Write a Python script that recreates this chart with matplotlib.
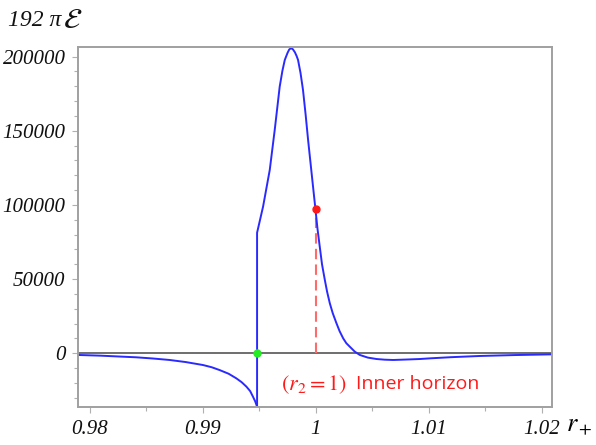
import matplotlib
matplotlib.use("Agg")
import matplotlib.pyplot as plt
from matplotlib.ticker import MultipleLocator

plt.rcParams["mathtext.fontset"] = "stix"

# curve (r+, 192*pi*E)
r_left = [0.97898, 0.97912, 0.9810, 0.9830, 0.98413, 0.9856, 0.98708, 0.9885,
          0.99003, 0.99080, 0.99150, 0.99230, 0.99298, 0.99345, 0.99387,
          0.99420, 0.99445, 0.99465, 0.99481]
e_left = [-1000, -1150, -1600, -2300, -2700, -3500, -4500, -5900,
          -7900, -9400, -11300, -13800, -16900, -19500, -22500,
          -25500, -29300, -32500, -36000]

r_right = [0.99481, 0.99481, 0.99534, 0.99593, 0.99637, 0.99681, 0.99705,
           0.99726, 0.99750, 0.99765, 0.99781, 0.99797, 0.99815, 0.99830,
           0.99843, 0.99865, 0.99887, 0.99910, 0.99932, 0.99965, 0.99997,
           1.00015, 1.00035, 1.00055, 1.00080, 1.00100, 1.00124, 1.00150,
           1.00183, 1.00210, 1.00242, 1.00270, 1.00300, 1.00345, 1.00390,
           1.00460, 1.00537, 1.00610, 1.00684, 1.00800, 1.00920, 1.0101,
           1.0120, 1.0145, 1.0175, 1.02088]
e_right = [-36000, 81300, 98900, 123600, 150600, 179800, 190500,
           197800, 202500, 204800, 205700, 205000, 203000, 200500,
           197800, 189000, 177500, 161000, 143800, 120000, 97100,
           84000, 71900, 60000, 49400, 41500, 33700, 27000,
           20200, 15000, 10100, 6800, 4500, 1100, -1150,
           -2900, -3850, -4300, -4500, -4200, -3850, -3400,
           -2600, -1800, -1200, -700]

r_inner, e_inner = 1.0, 97100
r_green, e_green = 0.99481, 0

x_ticks = [0.98, 0.99, 1.0, 1.01, 1.02]
x_labels = ["0.98", "0.99", "1", "1.01", "1.02"]
y_ticks = [0, 50000, 100000, 150000, 200000]
y_labels = ["0", "50000", "100000", "150000", "200000"]

fig = plt.figure(figsize=(5.96, 4.45), dpi=100)
ax = fig.add_axes([78/596, 38/445, 474/596, 360/445])

serif = ["Liberation Serif", "DejaVu Serif"]

ax.axhline(0, color="#555555", lw=1.2, zorder=1)
ax.plot(r_left, e_left, color="#2a2aff", lw=1.4, zorder=2)
ax.plot(r_right, e_right, color="#2a2aff", lw=1.4, zorder=2)
ax.plot([r_inner, r_inner], [0, e_inner], color="#ff6b6b", lw=1.5,
        ls=(0, (5, 2.5)), zorder=1.5)
ax.plot(r_inner, e_inner, "o", color="#ff1a1a", ms=5, zorder=3)
ax.plot(r_green, e_green, "o", color="#22ee22", ms=5, zorder=3)

ax.set_xlim(0.97898, 1.02088)
ax.set_ylim(-36200, 206500)

ax.set_xticks(x_ticks)
ax.set_xticklabels(x_labels)
ax.set_yticks(y_ticks)
ax.set_yticklabels(y_labels)
ax.xaxis.set_minor_locator(MultipleLocator(0.005))
ax.yaxis.set_minor_locator(MultipleLocator(10000))
ax.tick_params(which="both", direction="out", color="#b0b0b0", width=0.8)
ax.tick_params(which="major", length=4, pad=5)
ax.tick_params(which="minor", length=3)
for lab in ax.get_xticklabels() + ax.get_yticklabels():
    lab.set_family(serif)
    lab.set_style("italic")
    lab.set_fontsize(15)
    lab.set_color("#111111")

for s in ax.spines.values():
    s.set_color("#a0a0a0")
    s.set_linewidth(1.4)

fig.text(8/596, 1 - 21/445, "192 π", family=serif, style="italic",
         fontsize=17, va="center", ha="left", color="#111111")
fig.text(63/596, 1 - 20/445, r"$\mathcal{E}$", fontsize=21,
         va="center", ha="left", color="#111111")
fig.text(566/596, 1 - 425/445, r"$r_+$", fontsize=19, va="center",
         ha="left")

ax.text(0.9969, -21000, r"$(r_2 = 1)$", color="#ff1a1a", fontsize=16,
        va="center", ha="left")
ax.text(1.00354, -21000, "Inner horizon", color="#ff1a1a", fontsize=14,
        family=["Open Sans", "DejaVu Sans"], va="center", ha="left")

fig.savefig("out.png", dpi=100)
